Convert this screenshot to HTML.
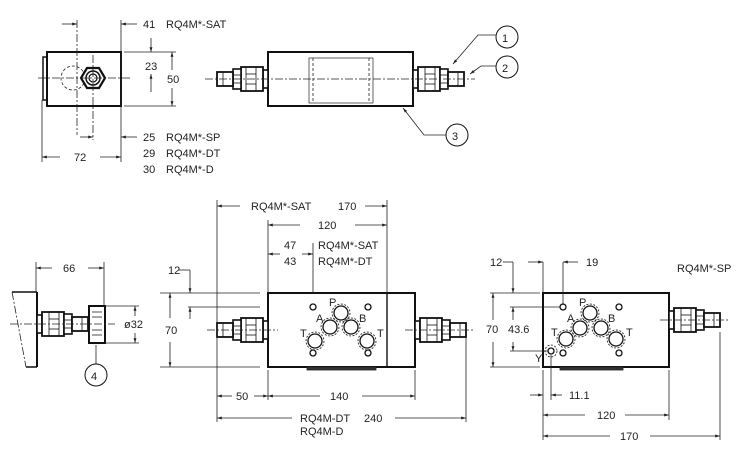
<!DOCTYPE html>
<html><head><meta charset="utf-8"><style>
html,body{margin:0;padding:0;background:#fff;}
svg{display:block;}
text{font-family:"Liberation Sans",sans-serif;font-size:11px;fill:#222;}
</style></head><body>
<svg width="743" height="454" viewBox="0 0 743 454" xmlns="http://www.w3.org/2000/svg">
<defs>
<marker id="a" viewBox="0 0 10 10" refX="10" refY="5" markerWidth="6" markerHeight="6" orient="auto-start-reverse"><path d="M0,2 L10,5 L0,8z" fill="#222"/></marker>
<g id="fit">
 <rect x="-5" y="-9" width="5" height="18" fill="#fff" stroke="#111" stroke-width="1.6"/>
 <rect x="-27" y="-12" width="22" height="24" fill="#fff" stroke="#111" stroke-width="1.8"/>
 <line x1="-22" y1="-12" x2="-22" y2="12" stroke="#111"/>
 <line x1="-12" y1="-12" x2="-12" y2="12" stroke="#111"/>
 <line x1="-22" y1="-5" x2="-12" y2="-5" stroke="#111"/>
 <line x1="-22" y1="5" x2="-12" y2="5" stroke="#111"/>
 <rect x="-35" y="-10" width="8" height="20" fill="#fff" stroke="#111" stroke-width="1.6"/>
 <line x1="-35" y1="-4" x2="-27" y2="-4" stroke="#111"/>
 <line x1="-35" y1="4" x2="-27" y2="4" stroke="#111"/>
 <rect x="-51" y="-7" width="16" height="14" fill="#fff" stroke="#111" stroke-width="1.8"/>
 <line x1="-45" y1="-7" x2="-45" y2="7" stroke="#111"/>
</g>
</defs>
<g stroke="#222" fill="none" stroke-width="0.8">
<!-- ===== Top-left view ===== -->
<rect x="47" y="52" width="74" height="54" stroke="#111" stroke-width="2"/>
<rect x="43" y="57" width="4" height="43" stroke="#111" stroke-width="1.5"/>
<circle cx="73" cy="78" r="12" stroke-dasharray="3 2"/>
<polygon points="81,78 87,68 99,68 105,78 99,88 87,88" fill="#fff" stroke="#111" stroke-width="2.2"/>
<circle cx="93" cy="78" r="7" stroke="#111" stroke-width="1.5"/>
<circle cx="93" cy="78" r="4" stroke="#111" stroke-width="1.2"/>
<line x1="38" y1="78" x2="130" y2="78" stroke-dasharray="8 2 2 2"/>
<line x1="77" y1="20" x2="77" y2="135" stroke-dasharray="8 2 2 2"/>
<line x1="93" y1="55" x2="93" y2="140" stroke-dasharray="8 2 2 2"/>
<line x1="121" y1="20" x2="121" y2="162"/>
<line x1="42" y1="100" x2="42" y2="162"/>
<line x1="62" y1="24" x2="77" y2="24" marker-end="url(#a)"/>
<line x1="137" y1="24" x2="121" y2="24" marker-end="url(#a)"/>
<line x1="124" y1="52" x2="176" y2="52"/>
<line x1="124" y1="106" x2="176" y2="106"/>
<line x1="172" y1="70" x2="172" y2="52" marker-end="url(#a)"/>
<line x1="172" y1="88" x2="172" y2="106" marker-end="url(#a)"/>
<line x1="151" y1="38" x2="151" y2="52" marker-end="url(#a)"/>
<line x1="151" y1="92" x2="151" y2="74" marker-end="url(#a)"/>
<line x1="80" y1="137" x2="93" y2="137" marker-end="url(#a)"/>
<line x1="137" y1="137" x2="121" y2="137" marker-end="url(#a)"/>
<line x1="60" y1="157" x2="42" y2="157" marker-end="url(#a)"/>
<line x1="100" y1="157" x2="121" y2="157" marker-end="url(#a)"/>

<!-- ===== Top-right view ===== -->
<rect x="268" y="52" width="145" height="54" stroke="#111" stroke-width="2"/>
<rect x="309" y="58" width="64" height="45" stroke-width="0.7"/>
<line x1="313" y1="58" x2="313" y2="103" stroke-dasharray="3 2"/>
<line x1="369" y1="58" x2="369" y2="103" stroke-dasharray="3 2"/>
<use href="#fit" transform="translate(268,79)"/>
<use href="#fit" transform="translate(413,79) scale(-1,1)"/>
<line x1="205" y1="79" x2="475" y2="79" stroke-dasharray="8 2 2 2"/>
<circle cx="507" cy="37" r="11" stroke="#111" stroke-width="1"/>
<circle cx="507" cy="67" r="11" stroke="#111" stroke-width="1"/>
<circle cx="457" cy="135" r="11" stroke="#111" stroke-width="1"/>
<polyline points="496,35 478,35 453,64" marker-end="url(#a)"/>
<polyline points="496,66 481,66 470,74" marker-end="url(#a)"/>
<polyline points="446,135 424,135 403,108" marker-end="url(#a)"/>

<!-- ===== Bottom-left view ===== -->
<line x1="12" y1="292" x2="37" y2="292" stroke="#111" stroke-width="1.5"/>
<line x1="37" y1="292" x2="37" y2="367" stroke="#111" stroke-width="2"/>
<line x1="26" y1="367" x2="37" y2="367" stroke="#111" stroke-width="1.5"/>
<line x1="12" y1="292" x2="26" y2="367" stroke-dasharray="8 2 2 2"/>
<use href="#fit" transform="translate(37,324) scale(-1,1)"/>
<rect x="89" y="306" width="16" height="37" fill="#fff" stroke="#111" stroke-width="2"/>
<line x1="92" y1="312" x2="102" y2="312"/><line x1="92" y1="317" x2="102" y2="317"/><line x1="92" y1="330" x2="102" y2="330"/><line x1="92" y1="335" x2="102" y2="335"/>
<line x1="10" y1="324" x2="115" y2="324" stroke-dasharray="8 2 2 2"/>
<line x1="36" y1="262" x2="36" y2="292"/>
<line x1="104" y1="262" x2="104" y2="306"/>
<line x1="52" y1="268" x2="36" y2="268" marker-end="url(#a)"/>
<line x1="88" y1="268" x2="104" y2="268" marker-end="url(#a)"/>
<line x1="105" y1="306" x2="139" y2="306"/>
<line x1="105" y1="343" x2="139" y2="343"/>
<line x1="135" y1="316" x2="135" y2="306" marker-end="url(#a)"/>
<line x1="135" y1="333" x2="135" y2="343" marker-end="url(#a)"/>
<line x1="96" y1="345" x2="96" y2="364"/>
<circle cx="96" cy="375" r="11" stroke="#111" stroke-width="1"/>

<!-- ===== Bottom-middle view ===== -->
<rect x="268" y="293" width="147" height="74" stroke="#111" stroke-width="2"/>
<line x1="387" y1="293" x2="387" y2="367" stroke="#111" stroke-width="1.4"/>
<rect x="307" y="367" width="69" height="3" fill="#333"/>
<use href="#fit" transform="translate(268,330)"/>
<use href="#fit" transform="translate(415,330) scale(-1,1)"/>
<line x1="207" y1="330" x2="278" y2="330" stroke-dasharray="8 2 2 2"/>
<line x1="405" y1="330" x2="475" y2="330" stroke-dasharray="8 2 2 2"/>
<g stroke="#111" stroke-width="1.3">
<circle cx="341" cy="313" r="7"/><circle cx="341" cy="313" r="9" stroke-dasharray="2 1.5" stroke-width="0.8"/>
<circle cx="330" cy="327" r="7"/><circle cx="330" cy="327" r="9" stroke-dasharray="2 1.5" stroke-width="0.8"/>
<circle cx="351" cy="327" r="7"/><circle cx="351" cy="327" r="9" stroke-dasharray="2 1.5" stroke-width="0.8"/>
<circle cx="315" cy="341" r="7"/><circle cx="315" cy="341" r="9" stroke-dasharray="2 1.5" stroke-width="0.8"/>
<circle cx="367" cy="341" r="7"/><circle cx="367" cy="341" r="9" stroke-dasharray="2 1.5" stroke-width="0.8"/>
<circle cx="313" cy="307" r="3"/><circle cx="368" cy="307" r="3"/><circle cx="313" cy="353" r="3"/><circle cx="368" cy="353" r="3"/>
</g>
<line x1="217" y1="200" x2="217" y2="422"/>
<line x1="387" y1="200" x2="387" y2="293"/>
<line x1="268" y1="220" x2="268" y2="293"/>
<line x1="313" y1="243" x2="313" y2="293"/>
<line x1="240" y1="206" x2="217" y2="206" marker-end="url(#a)"/>
<line x1="365" y1="206" x2="387" y2="206" marker-end="url(#a)"/>
<line x1="300" y1="225" x2="268" y2="225" marker-end="url(#a)"/>
<line x1="355" y1="225" x2="387" y2="225" marker-end="url(#a)"/>
<line x1="280" y1="254" x2="268" y2="254" marker-end="url(#a)"/>
<line x1="302" y1="254" x2="313" y2="254" marker-end="url(#a)"/>
<line x1="160" y1="293" x2="260" y2="293"/>
<line x1="160" y1="367" x2="260" y2="367"/>
<line x1="188" y1="307" x2="260" y2="307"/>
<line x1="178" y1="270" x2="190" y2="270"/>
<line x1="190" y1="270" x2="190" y2="293" marker-end="url(#a)"/>
<line x1="190" y1="319" x2="190" y2="307" marker-end="url(#a)"/>
<line x1="170" y1="318" x2="170" y2="293" marker-end="url(#a)"/>
<line x1="170" y1="342" x2="170" y2="367" marker-end="url(#a)"/>
<line x1="268" y1="370" x2="268" y2="400"/>
<line x1="415" y1="370" x2="415" y2="400"/>
<line x1="466" y1="338" x2="466" y2="422"/>
<line x1="232" y1="396" x2="217" y2="396" marker-end="url(#a)"/>
<line x1="254" y1="396" x2="268" y2="396" marker-end="url(#a)"/>
<line x1="320" y1="396" x2="268" y2="396" marker-end="url(#a)"/>
<line x1="362" y1="396" x2="415" y2="396" marker-end="url(#a)"/>
<line x1="292" y1="418" x2="217" y2="418" marker-end="url(#a)"/>
<line x1="395" y1="418" x2="466" y2="418" marker-end="url(#a)"/>

<!-- ===== Bottom-right view ===== -->
<rect x="543" y="293" width="126" height="74" stroke="#111" stroke-width="2"/>
<rect x="560" y="367" width="63" height="3" fill="#333"/>
<use href="#fit" transform="translate(669,320) scale(-1,1)"/>
<line x1="660" y1="320" x2="730" y2="320" stroke-dasharray="8 2 2 2"/>
<g stroke="#111" stroke-width="1.3">
<circle cx="590" cy="313" r="7"/><circle cx="590" cy="313" r="9" stroke-dasharray="2 1.5" stroke-width="0.8"/>
<circle cx="580" cy="328" r="7"/><circle cx="580" cy="328" r="9" stroke-dasharray="2 1.5" stroke-width="0.8"/>
<circle cx="601" cy="328" r="7"/><circle cx="601" cy="328" r="9" stroke-dasharray="2 1.5" stroke-width="0.8"/>
<circle cx="566" cy="339" r="7"/><circle cx="566" cy="339" r="9" stroke-dasharray="2 1.5" stroke-width="0.8"/>
<circle cx="616" cy="339" r="7"/><circle cx="616" cy="339" r="9" stroke-dasharray="2 1.5" stroke-width="0.8"/>
<circle cx="563" cy="307" r="3"/><circle cx="619" cy="307" r="3"/><circle cx="563" cy="353" r="3"/><circle cx="619" cy="353" r="3"/>
<circle cx="551" cy="351" r="3"/><circle cx="551" cy="351" r="6" stroke-dasharray="2 1.5" stroke-width="0.8"/>
</g>
<line x1="543" y1="262" x2="543" y2="293"/>
<line x1="563" y1="262" x2="563" y2="305"/>
<line x1="503" y1="262" x2="513" y2="262"/>
<line x1="513" y1="262" x2="513" y2="293" marker-end="url(#a)"/>
<line x1="528" y1="262" x2="543" y2="262" marker-end="url(#a)"/>
<line x1="578" y1="262" x2="563" y2="262" marker-end="url(#a)"/>
<line x1="490" y1="293" x2="540" y2="293"/>
<line x1="490" y1="367" x2="540" y2="367"/>
<line x1="510" y1="307" x2="560" y2="307"/>
<line x1="510" y1="351" x2="548" y2="351"/>
<line x1="493" y1="320" x2="493" y2="293" marker-end="url(#a)"/>
<line x1="493" y1="342" x2="493" y2="367" marker-end="url(#a)"/>
<line x1="513" y1="320" x2="513" y2="307" marker-end="url(#a)"/>
<line x1="513" y1="342" x2="513" y2="351" marker-end="url(#a)"/>
<line x1="543" y1="370" x2="543" y2="440"/>
<line x1="551" y1="355" x2="551" y2="400"/>
<line x1="669" y1="370" x2="669" y2="420"/>
<line x1="720" y1="332" x2="720" y2="440"/>
<line x1="530" y1="395" x2="543" y2="395" marker-end="url(#a)"/>
<line x1="562" y1="395" x2="551" y2="395" marker-end="url(#a)"/>
<line x1="585" y1="415" x2="543" y2="415" marker-end="url(#a)"/>
<line x1="625" y1="415" x2="669" y2="415" marker-end="url(#a)"/>
<line x1="610" y1="436" x2="543" y2="436" marker-end="url(#a)"/>
<line x1="650" y1="436" x2="720" y2="436" marker-end="url(#a)"/>
</g>

<text x="143" y="28">41</text><text x="166" y="28">RQ4M*-SAT</text>
<text x="145" y="70">23</text><text x="167" y="83">50</text>
<text x="143" y="141">25</text><text x="166" y="141">RQ4M*-SP</text>
<text x="143" y="157">29</text><text x="166" y="157">RQ4M*-DT</text>
<text x="143" y="173">30</text><text x="166" y="173">RQ4M*-D</text>
<text x="74" y="161">72</text>
<text x="502" y="42" font-size="14">1</text>
<text x="502" y="72" font-size="14">2</text>
<text x="452" y="140" font-size="14">3</text>
<text x="91" y="380" font-size="14">4</text>
<text x="63" y="272">66</text>
<text x="124" y="328">ø32</text>
<text x="251" y="210">RQ4M*-SAT</text><text x="338" y="210">170</text>
<text x="318" y="229">120</text>
<text x="284" y="249">47</text><text x="284" y="265">43</text>
<text x="318" y="249">RQ4M*-SAT</text><text x="318" y="265">RQ4M*-DT</text>
<text x="168" y="274">12</text>
<text x="165" y="334">70</text>
<text x="236" y="400">50</text>
<text x="330" y="400">140</text>
<text x="300" y="422">RQ4M-DT</text><text x="364" y="422">240</text>
<text x="300" y="435">RQ4M-D</text>
<text x="329" y="306" font-size="12">P</text><text x="316" y="322" font-size="12">A</text><text x="359" y="322" font-size="12">B</text>
<text x="300" y="337" font-size="12">T</text><text x="377" y="337" font-size="12">T</text>
<text x="490" y="266">12</text><text x="586" y="266">19</text>
<text x="677" y="272">RQ4M*-SP</text>
<text x="486" y="333">70</text><text x="508" y="333">43.6</text>
<text x="535" y="362">Y</text>
<text x="569" y="399">11.1</text>
<text x="597" y="419">120</text>
<text x="620" y="440">170</text>
<text x="579" y="306" font-size="12">P</text><text x="567" y="322" font-size="12">A</text><text x="608" y="322" font-size="12">B</text>
<text x="551" y="336" font-size="12">T</text><text x="626" y="336" font-size="12">T</text>
</svg>
</body></html>
